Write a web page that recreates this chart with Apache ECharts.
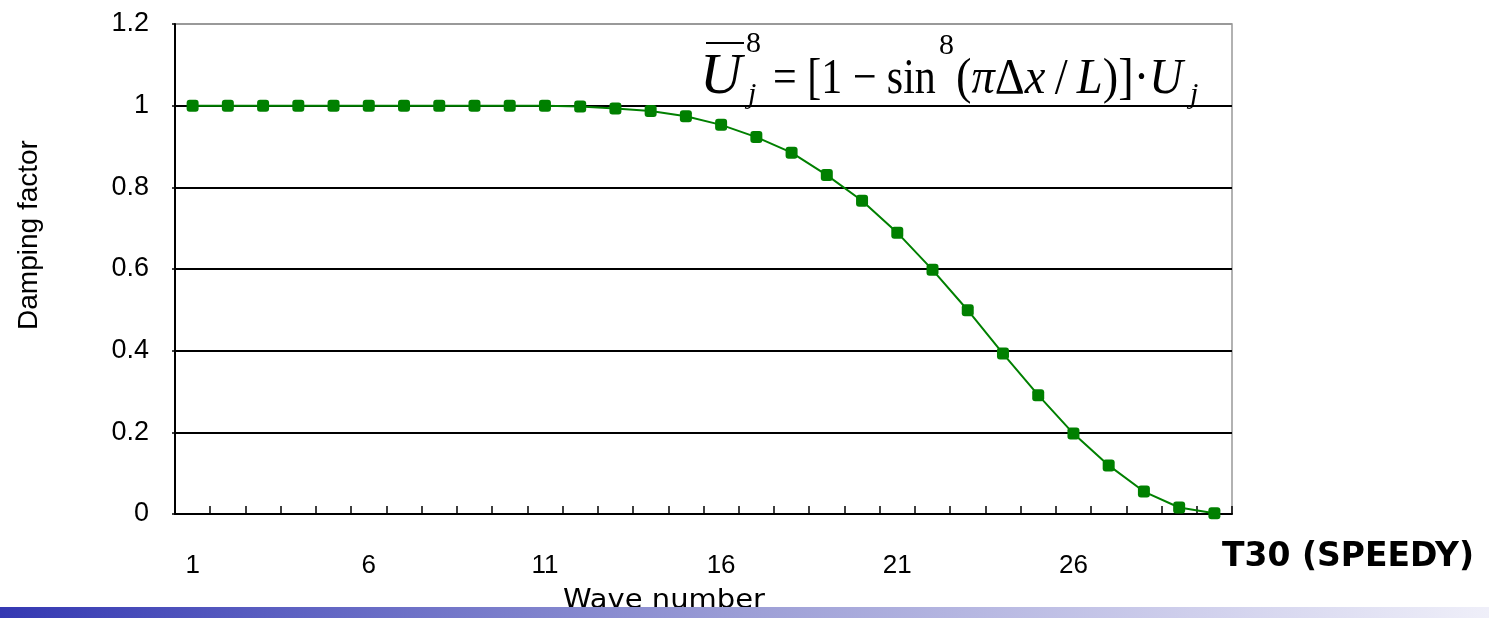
<!DOCTYPE html>
<html>
<head>
<meta charset="utf-8">
<script src="https://cdn.jsdelivr.net/npm/echarts@6/dist/echarts.min.js"></script>
<style>
html,body{margin:0;padding:0;background:#fff;}
#chart{width:1489px;height:618px;}
</style>
</head>
<body>
<div id="chart"></div>
<script>
// ---- data ----
const waveNumbers = ['1','2','3','4','5','6','7','8','9','10','11','12','13','14','15','16','17','18','19','20','21','22','23','24','25','26','27','28','29','30'];
const dampingFactor = [1, 1, 1, 1, 1, 1, 1, 1, 1, 1, 1, 0.998, 0.993, 0.987, 0.974, 0.953, 0.923, 0.885, 0.830, 0.767, 0.689, 0.598, 0.499, 0.393, 0.291, 0.197, 0.119, 0.055, 0.016, 0.002];
const yAxisName = 'Damping factor';
const xAxisName = 'Wave number';
const cornerLabel = 'T30 (SPEEDY)';

const chart = echarts.init(document.getElementById('chart'), null, {renderer: 'canvas'});

const serif = '"Liberation Serif", "Times New Roman", serif';
const sans = '"Liberation Sans", Arial, sans-serif';

chart.setOption({
  animation: false,
  backgroundColor: '#fff',
  grid: {
    left: 175, right: 257, top: 24, bottom: 104,
    show: true, borderColor: '#999', borderWidth: 1.5, backgroundColor: 'transparent'
  },
  xAxis: {
    type: 'category',
    data: waveNumbers,
    boundaryGap: true,
    axisLine: {lineStyle: {color: '#000', width: 2}},
    axisTick: {show: true, inside: true, length: 8, interval: 0, lineStyle: {color: '#000', width: 1.5}},
    axisLabel: {interval: 4, margin: 39, fontSize: 26, color: '#000', fontFamily: sans},
    splitLine: {show: false}
  },
  yAxis: {
    type: 'value',
    min: 0, max: 1.2, interval: 0.2,
    axisLine: {show: true, lineStyle: {color: '#000', width: 2}},
    axisTick: {show: true, length: 3, lineStyle: {color: '#000', width: 1.5}},
    axisLabel: {margin: 26, fontSize: 27, color: '#000', fontFamily: sans,
      formatter: function (v) { return String(Math.round(v * 10) / 10); }},
    splitLine: {show: true, lineStyle: {color: ['#000','#000','#000','#000','#000','#000','#999'], width: 2}}
  },
  series: [{
    type: 'line',
    data: dampingFactor,
    symbol: 'roundRect',
    symbolSize: 12,
    showSymbol: true,
    itemStyle: {color: '#008000'},
    lineStyle: {color: '#008000', width: 2}
  }],
  graphic: [
    {
      type: 'text', x: 29, y: 235, rotation: Math.PI / 2,
      style: {text: yAxisName, font: '28px ' + sans, fill: '#000', align: 'center', verticalAlign: 'middle'}
    },
    {
      type: 'text', x: 664, y: 601, scaleX: 1.16, scaleY: 1.05,
      style: {text: xAxisName, font: '25px "DejaVu Sans", sans-serif', fill: '#000', align: 'center', verticalAlign: 'middle'}
    },
    {
      type: 'text', x: 1222, y: 557,
      style: {text: cornerLabel, font: 'bold 33px "DejaVu Sans", sans-serif', fill: '#000', align: 'left', verticalAlign: 'middle'}
    },
    {
      type: 'rect', shape: {x: 0, y: 607, width: 1489, height: 11}, z: 100,
      style: {fill: new echarts.graphic.LinearGradient(0, 0, 1, 0, [
        {offset: 0, color: '#3438B2'},
        {offset: 0.2, color: '#5E62C2'},
        {offset: 0.5, color: '#9C9ED6'},
        {offset: 0.8, color: '#CFCFEC'},
        {offset: 1, color: '#EFEFF9'}
      ])}
    },
    // formula
    {
      type: 'line', shape: {x1: 706, y1: 43, x2: 744, y2: 43}, style: {stroke: '#000', lineWidth: 2}
    },
    {
      type: 'text', x: 700, y: 78,
      style: {text: 'U', font: 'italic 58px ' + serif, fill: '#000', align: 'left', verticalAlign: 'middle'}
    },
    {
      type: 'text', x: 746, y: 44,
      style: {text: '8', font: '30px ' + serif, fill: '#000', align: 'left', verticalAlign: 'middle'}
    },
    {
      type: 'text', x: 748, y: 95,
      style: {text: 'j', font: 'italic 30px ' + serif, fill: '#000', align: 'left', verticalAlign: 'middle'}
    },
    {
      type: 'text', x: 773, y: 80, scaleX: 0.84,
      style: {text: '= [1 − sin', font: '50px ' + serif, fill: '#000', align: 'left', verticalAlign: 'middle'}
    },
    {
      type: 'text', x: 939, y: 46,
      style: {text: '8', font: '30px ' + serif, fill: '#000', align: 'left', verticalAlign: 'middle'}
    },
    {
      type: 'text', x: 956, y: 80, scaleX: 0.93,
      style: {
        text: '{n|(}{i|π}{n|Δ}{i|x}{n|\u2009/\u2009}{i|L}{n|)]·}{i|U}',
        align: 'left', verticalAlign: 'middle',
        rich: {
          n: {fontFamily: serif, fontSize: 50, color: '#000'},
          i: {fontFamily: serif, fontSize: 50, fontStyle: 'italic', color: '#000'}
        }
      }
    },
    {
      type: 'text', x: 1190, y: 95,
      style: {text: 'j', font: 'italic 30px ' + serif, fill: '#000', align: 'left', verticalAlign: 'middle'}
    }
  ]
});
</script>
</body>
</html>
